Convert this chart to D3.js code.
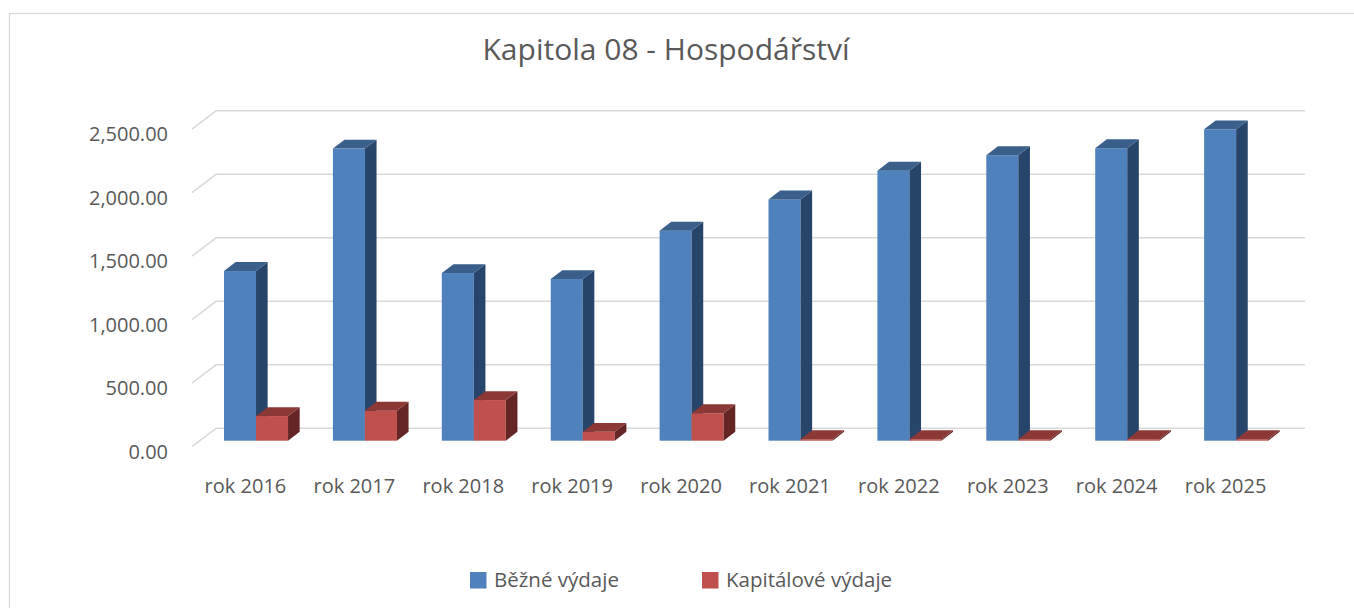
<!DOCTYPE html>
<html><head><meta charset="utf-8">
<script src="https://cdn.jsdelivr.net/npm/d3@7"></script>
<style>html,body{margin:0;padding:0;background:#fff;overflow:hidden}</style>
</head><body>
<svg id="chart" width="1354" height="608"></svg>
<script>
const title = "Kapitola 08 - Hospodářství";
const categories = ["rok 2016","rok 2017","rok 2018","rok 2019","rok 2020","rok 2021","rok 2022","rok 2023","rok 2024","rok 2025"];
const seriesNames = ["Běžné výdaje","Kapitálové výdaje"];
const bezneVydaje = [1336, 2300, 1320, 1273, 1654, 1900, 2126, 2248, 2303, 2452];
const kapitaloveVydaje = [194, 236, 320, 70, 216, 0, 0, 0, 0, 0];
const yTicks = [0, 500, 1000, 1500, 2000, 2500];

const colors = [
  {front:"#4f81bd", top:"#3a5f8b", side:"#27446a"},
  {front:"#c0504d", top:"#8c3836", side:"#652524"}
];

const svg = d3.select("#chart");
const FONT = "'Open Sans', sans-serif";
const TXT = "#595959";

svg.append("rect").attr("x",9.5).attr("y",13.5).attr("width",1400).attr("height",700)
  .attr("fill","#fff").attr("stroke","#d9d9d9").attr("stroke-width",1.3);

const y = d3.scaleLinear().domain([0,2500]).range([446.7,129.2]);
const x = d3.scaleBand().domain(categories).range([192,1281]);
const DX = 24, DY = -18.4;
const f0 = 0.326, f1 = 0.81;
const wallRight = 1305;

// gridlines (wall + floor diagonals)
svg.append("g").selectAll("path").data(yTicks).join("path")
  .attr("d", t => `M${x.range()[0]},${y(t)}L${x.range()[0]+DX},${y(t)+DY}L${wallRight},${y(t)+DY}`)
  .attr("fill","none").attr("stroke","#d9d9d9").attr("stroke-width",1.5);

// y labels
svg.append("g").selectAll("text").data(yTicks).join("text")
  .attr("x",168).attr("y", t => y(t)+5).attr("dy","0.35em")
  .attr("text-anchor","end").attr("font-family",FONT).attr("font-size",20).attr("fill",TXT)
  .text(d3.format(",.2f"));

// bars
const bw = x.bandwidth();
const barW = bw*0.294;
const sdx = (f1-f0)*DX, sdy = (f1-f0)*DY;
const series = [bezneVydaje, kapitaloveVydaje];
const gBars = svg.append("g");
categories.forEach((c,i) => {
  series.forEach((vals,s) => {
    const v = vals[i];
    const xF = x(c) + (bw - 2*barW)/2 + 1.75 + s*barW + f0*DX;
    const yBase = y(0) + f0*DY;
    let yTop = y(v) + f0*DY;
    if (yBase - yTop < 1.5) yTop = yBase - 1.5;
    const col = colors[s];
    const g = gBars.append("g");
    g.append("rect").attr("x",xF).attr("y",yTop).attr("width",barW).attr("height",yBase-yTop).attr("fill",col.front);
    g.append("path").attr("d",`M${xF+barW},${yTop}L${xF+barW+sdx},${yTop+sdy}L${xF+barW+sdx},${yBase+sdy}L${xF+barW},${yBase}Z`).attr("fill",col.side);
    g.append("path").attr("d",`M${xF},${yTop}L${xF+sdx},${yTop+sdy}L${xF+barW+sdx},${yTop+sdy}L${xF+barW},${yTop}Z`).attr("fill",col.top);
  });
});

// category labels
svg.append("g").selectAll("text").data(categories).join("text")
  .attr("x", c => x(c)+bw/2 - 1).attr("y",493)
  .attr("text-anchor","middle").attr("font-family",FONT).attr("font-size",20).attr("fill",TXT)
  .text(d => d);

// title
svg.append("text").attr("x",666).attr("y",60).attr("text-anchor","middle")
  .attr("font-family",FONT).attr("font-size",30).attr("fill",TXT).text(title);

// legend
const legX = [470, 702];
seriesNames.forEach((n,s) => {
  svg.append("rect").attr("x",legX[s]).attr("y",572).attr("width",16.5).attr("height",16.5).attr("fill",colors[s].front);
  svg.append("text").attr("x",legX[s]+24).attr("y",587).attr("font-family",FONT).attr("font-size",20.5).attr("fill",TXT).text(n);
});
</script>
</body></html>
